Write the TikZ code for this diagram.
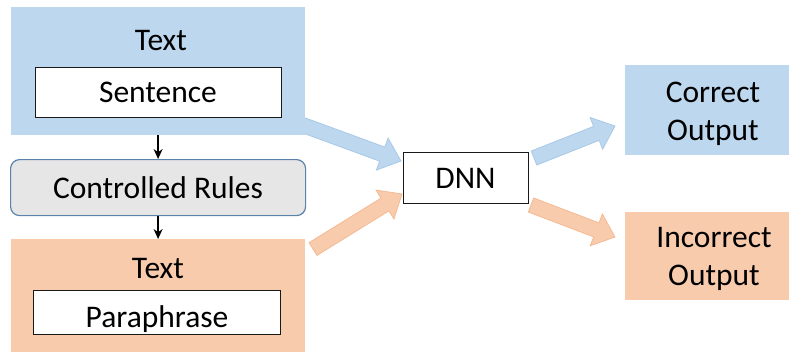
\documentclass[tikz,border=0pt]{standalone}
\usepackage{fontspec}
\setmainfont{Carlito}
\usetikzlibrary{calc,arrows.meta}

\definecolor{bluefill}{HTML}{BDD7EE}
\definecolor{blueedge}{HTML}{A7C9E8}
\definecolor{orangefill}{HTML}{F8CBAD}
\definecolor{orangeedge}{HTML}{F4BA93}
\definecolor{rulesfill}{HTML}{E7E6E6}
\definecolor{rulesedge}{HTML}{5A82AA}

% block arrow from #1 (tail) to #2 (tip); #4 names the centre of the head base
\newcommand\fatarrow[4]{%
  \coordinate (#4) at ($(#2)!20bp!(#1)$);
  \draw[#3] ($(#1)!7.5bp!90:(#2)$) -- ($(#4)!7.5bp!90:(#2)$)
    -- ($(#4)!17bp!90:(#2)$) -- (#2) -- ($(#4)!17bp!-90:(#2)$)
    -- ($(#4)!7.5bp!-90:(#2)$) -- ($(#1)!7.5bp!-90:(#2)$) -- cycle;
}

\tikzset{
  box/.style={draw=none, anchor=north west, inner sep=0pt},
  whitebox/.style={draw=black!90, line width=1.3bp, fill=white, anchor=north west, inner sep=0pt},
  lbl/.style={anchor=base, inner sep=0pt, font=\fontsize{31.5bp}{38bp}\selectfont, align=center},
  bluearrow/.style={fill=bluefill, draw=blueedge, line width=0.8bp, line join=miter},
  orangearrow/.style={fill=orangefill, draw=orangeedge, line width=0.8bp, line join=miter},
  down/.style={-{Stealth[length=10bp,width=9bp]}, line width=1.3bp, black}
}

\begin{document}
\begin{tikzpicture}[x=1bp, y=-1bp]
  \useasboundingbox (0,0) rectangle (789,352);

  % block arrows (drawn first so boxes cover their tails)
  \coordinate (b1t) at (300,124);  \coordinate (b1h) at (401,161);
  \coordinate (o1t) at (313,249);  \coordinate (o1h) at (402,194);
  \coordinate (b2t) at (534,158);  \coordinate (b2h) at (615,126);
  \coordinate (o2t) at (531,205);  \coordinate (o2h) at (615,237);
  \fatarrow{b1t}{b1h}{bluearrow}{b1m}
  \fatarrow{o1t}{o1h}{orangearrow}{o1m}
  \fatarrow{b2t}{b2h}{bluearrow}{b2m}
  \fatarrow{o2t}{o2h}{orangearrow}{o2m}

  % original text
  \node[box, fill=bluefill, minimum width=294bp, minimum height=128bp] (orig) at (11,7) {};
  \node[lbl] (origt) at (161,50) {Text};
  \node[whitebox, minimum width=246bp, minimum height=50bp] (sent) at (35,67) {};
  \node[lbl] (sentt) at (158,102) {Sentence};

  % controlled rules
  \node[draw=rulesedge, fill=rulesfill, line width=1.2bp, rounded corners=9bp,
        anchor=north west, inner sep=0pt, minimum width=295bp, minimum height=56bp] (rules) at (10,159) {};
  \node[lbl] (rulest) at (158,198) {Controlled Rules};

  % paraphrased text
  \node[box, fill=orangefill, minimum width=294bp, minimum height=113bp] (para) at (11,239) {};
  \node[lbl] (parat) at (158,278) {Text};
  \node[whitebox, minimum width=247bp, minimum height=44bp] (phr) at (33,290) {};
  \node[lbl] (phrt) at (157,327) {Paraphrase};

  % model
  \node[whitebox, minimum width=125bp, minimum height=51bp] (dnn) at (403,152) {};
  \node[lbl] (dnnt) at (465.5,188) {DNN};

  % outputs (a two-line label sits on the baseline of its last line)
  \node[box, fill=bluefill, minimum width=170bp, minimum height=90bp] (corr) at (625,65) {};
  \node[lbl] (corrt) at (713,140) {Correct\\Output};
  \node[box, fill=orangefill, minimum width=170bp, minimum height=88bp] (inc) at (625,212) {};
  \node[lbl] (inct) at (714,285) {Incorrect\\Output};

  % flow between the left blocks
  \draw[down] (orig.south -| rules.north) -- (rules.north);
  \draw[down] (rules.south) -- (rules.south |- para.north);
\end{tikzpicture}
\end{document}
